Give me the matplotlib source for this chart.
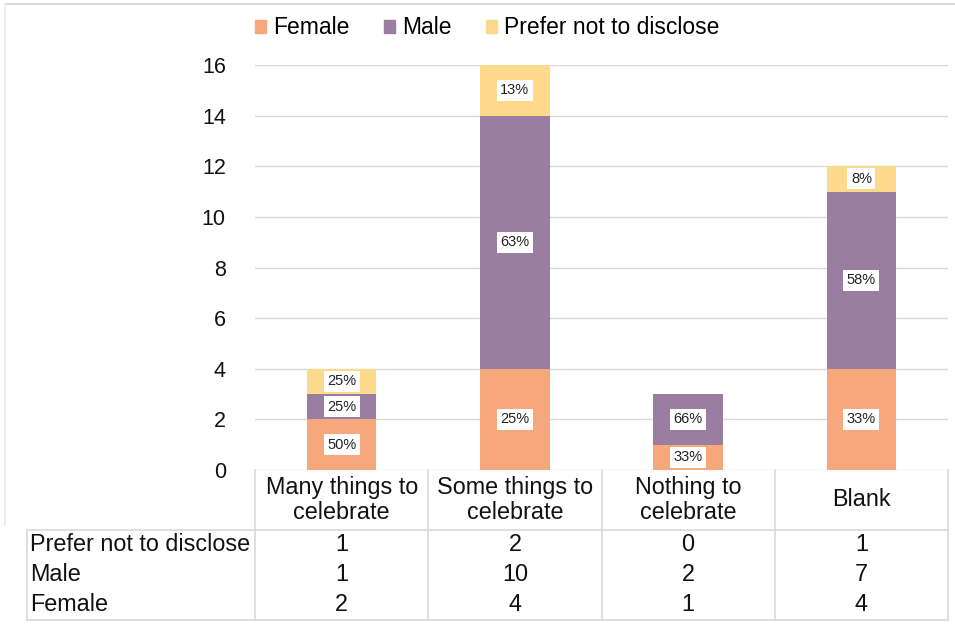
import numpy as np
import matplotlib.pyplot as plt
from matplotlib.patches import Patch
from matplotlib.lines import Line2D
from matplotlib.transforms import blended_transform_factory

plt.rcParams['font.family'] = ['Liberation Sans', 'DejaVu Sans']

categories = ['Many things to\ncelebrate', 'Some things to\ncelebrate',
              'Nothing to\ncelebrate', 'Blank']
female = [2, 4, 1, 4]
male = [1, 10, 2, 7]
prefer = [1, 2, 0, 1]

female_pct = ['50%', '25%', '33%', '33%']
male_pct = ['25%', '63%', '66%', '58%']
prefer_pct = ['25%', '13%', '', '8%']

yticks = [0, 2, 4, 6, 8, 10, 12, 14, 16]

c_female = '#F7A77C'
c_male = '#9A7EA1'
c_prefer = '#FDD98C'
c_line = '#D9D9D9'

fig = plt.figure(figsize=(9.55, 6.25), dpi=100)
ax = fig.add_axes([255 / 955, 1 - 470 / 625, 693 / 955, 405 / 625])

x = np.arange(len(categories))
w = 0.4
b1 = np.array(female)
b2 = b1 + np.array(male)
ax.bar(x, female, w, color=c_female, zorder=2)
ax.bar(x, male, w, bottom=b1, color=c_male, zorder=2)
ax.bar(x, prefer, w, bottom=b2, color=c_prefer, zorder=2)

box = dict(facecolor='white', edgecolor='none', pad=2.5)
for i in range(len(x)):
    segs = [(0, female[i], female_pct[i]), (b1[i], male[i], male_pct[i]),
            (b2[i], prefer[i], prefer_pct[i])]
    for base, h, lab in segs:
        if h > 0 and lab:
            ax.text(x[i], base + h / 2, lab, ha='center', va='center',
                    fontsize=10.5, color='#222222', bbox=box, zorder=3)

ax.set_xlim(-0.5, len(categories) - 0.5)
ax.set_ylim(0, 16)
ax.set_yticks(yticks)
ax.set_xticks([])
ax.grid(axis='y', color=c_line, linewidth=1, zorder=0)
for s in ax.spines.values():
    s.set_visible(False)
ax.tick_params(axis='y', length=0, pad=21, labelsize=15.5, labelcolor='#111111')

# data table under the chart
tr = blended_transform_factory(ax.transData, ax.transAxes)
trf = blended_transform_factory(fig.transFigure, ax.transAxes)
lw = 1.2
for k in range(len(categories) + 1):
    ax.add_line(Line2D([k - 0.5, k - 0.5], [0, -0.370], transform=tr,
                       color=c_line, lw=lw, clip_on=False))
ax.add_line(Line2D([27 / 955, 948 / 955], [-0.148, -0.148], transform=trf,
                   color=c_line, lw=lw, clip_on=False))
ax.add_line(Line2D([27 / 955, 948 / 955], [-0.370, -0.370], transform=trf,
                   color=c_line, lw=lw, clip_on=False))
ax.add_line(Line2D([27 / 955, 27 / 955], [-0.148, -0.370], transform=trf,
                   color=c_line, lw=lw, clip_on=False))

tfs = 16.8
for i, c in enumerate(categories):
    ax.text(x[i], -0.074, c, transform=tr, ha='center', va='center',
            fontsize=tfs, color='#111111', linespacing=1.1)

rows = [('Prefer not to disclose', prefer), ('Male', male), ('Female', female)]
row_y = [-0.185, -0.259, -0.333]
for (name, vals), yy in zip(rows, row_y):
    ax.text(30 / 955, yy, name, transform=trf, ha='left', va='center',
            fontsize=tfs, color='#111111')
    for i, v in enumerate(vals):
        ax.text(x[i], yy, str(v), transform=tr, ha='center', va='center',
                fontsize=tfs, color='#111111')

# outer frame
fig.add_artist(Line2D([5 / 955, 1], [1 - 4 / 625, 1 - 4 / 625],
                      transform=fig.transFigure, color=c_line, lw=1.5))
fig.add_artist(Line2D([5 / 955, 5 / 955], [1 - 4 / 625, 1 - 525 / 625],
                      transform=fig.transFigure, color='#EEEEEE', lw=1.5))

handles = [Patch(color=c_female), Patch(color=c_male), Patch(color=c_prefer)]
fig.legend(handles, ['Female', 'Male', 'Prefer not to disclose'],
           loc='center', bbox_to_anchor=(487 / 955, 1 - 28 / 625), ncol=3,
           frameon=False, fontsize=16.5, handlelength=0.5, handleheight=0.5,
           handletextpad=0.3, columnspacing=1.5)

plt.savefig('out.png', dpi=100)
